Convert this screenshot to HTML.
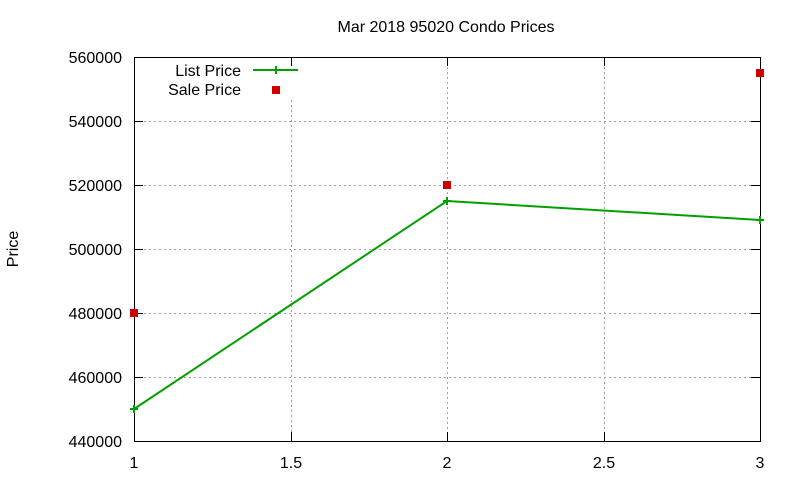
<!DOCTYPE html>
<html><head><style>body{margin:0;background:#fff}</style></head><body>
<svg width="800" height="480" xmlns="http://www.w3.org/2000/svg" font-family="Liberation Sans, sans-serif" font-size="16">
<rect width="800" height="480" fill="#fff"/>
<g stroke="#a0a0a0" stroke-width="1" stroke-dasharray="2,3">
<line x1="134" y1="377.5" x2="760" y2="377.5"/>
<line x1="134" y1="313.5" x2="760" y2="313.5"/>
<line x1="134" y1="249.5" x2="760" y2="249.5"/>
<line x1="134" y1="185.5" x2="760" y2="185.5"/>
<line x1="134" y1="121.5" x2="760" y2="121.5"/>
<line x1="291.5" y1="100" x2="291.5" y2="441"/>
<line x1="447.5" y1="57" x2="447.5" y2="441"/>
<line x1="604.5" y1="57" x2="604.5" y2="441"/>
</g>
<rect x="134.5" y="57.5" width="626" height="384" fill="none" stroke="#000"/>
<g stroke="#000">
<line x1="134" y1="377.5" x2="143" y2="377.5"/><line x1="751" y1="377.5" x2="760" y2="377.5"/>
<line x1="134" y1="313.5" x2="143" y2="313.5"/><line x1="751" y1="313.5" x2="760" y2="313.5"/>
<line x1="134" y1="249.5" x2="143" y2="249.5"/><line x1="751" y1="249.5" x2="760" y2="249.5"/>
<line x1="134" y1="185.5" x2="143" y2="185.5"/><line x1="751" y1="185.5" x2="760" y2="185.5"/>
<line x1="134" y1="121.5" x2="143" y2="121.5"/><line x1="751" y1="121.5" x2="760" y2="121.5"/>
<line x1="291.5" y1="441" x2="291.5" y2="432"/><line x1="291.5" y1="57" x2="291.5" y2="66"/>
<line x1="447.5" y1="441" x2="447.5" y2="432"/><line x1="447.5" y1="57" x2="447.5" y2="66"/>
<line x1="604.5" y1="441" x2="604.5" y2="432"/><line x1="604.5" y1="57" x2="604.5" y2="66"/>
</g>
<g text-anchor="end">
<text x="122" y="447">440000</text><text x="122" y="383">460000</text><text x="122" y="319">480000</text>
<text x="122" y="255">500000</text><text x="122" y="191">520000</text><text x="122" y="127">540000</text>
<text x="122" y="63">560000</text>
</g>
<g text-anchor="middle">
<text x="134" y="468">1</text><text x="291" y="468">1.5</text><text x="447" y="468">2</text>
<text x="604" y="468">2.5</text><text x="760" y="468">3</text>
<text x="446" y="32">Mar 2018 95020 Condo Prices</text>
<text transform="translate(18,249) rotate(-90)">Price</text>
</g>
<g stroke="#00a000" stroke-width="2" fill="none">
<polyline points="134,409 447,201 760,220"/>
<line x1="253" y1="70" x2="298" y2="70"/>
<path d="M130,409h8M134,405v8M443,201h8M447,197v8M756,220h8M760,216v8M272,70h8M276,66v8"/>
</g>
<g fill="#cc0000">
<rect x="130" y="309" width="8" height="8"/><rect x="443" y="181" width="8" height="8"/>
<rect x="756" y="69" width="8" height="8"/><rect x="272" y="86" width="8" height="8"/>
</g>
<g text-anchor="end">
<text x="241" y="76">List Price</text><text x="241" y="95">Sale Price</text>
</g>
</svg>
</body></html>
